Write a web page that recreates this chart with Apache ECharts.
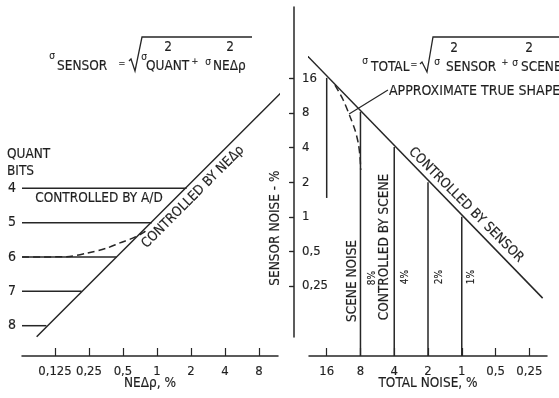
<!DOCTYPE html>
<html>
<head>
<meta charset="utf-8">
<script src="https://cdn.jsdelivr.net/npm/echarts@6/dist/echarts.min.js"></script>
<style>
  html, body { margin: 0; padding: 0; background: #ffffff; }
  #chart { width: 559px; height: 398px; }
</style>
</head>
<body>
<div id="chart"></div>
<script>
// ---------- left panel: sensor noise vs. quantisation ----------
const neTicks = [0.125, 0.25, 0.5, 1, 2, 4, 8];
const neTickLabels = ['0,125', '0,25', '0,5', '1', '2', '4', '8'];
const quantBits = [4, 5, 6, 7, 8];
// NEΔρ (%) where each quantisation level meets the NEΔρ-limited line
const bitsBreakNE = [1.83, 0.90, 0.44, 0.215, 0.105];
// NEΔρ-limited line, [NEΔρ %, bits]
const neLimitLine = [[0.086, 8.32], [14.4, 1.02]];
// transition for 6 bits, [NEΔρ %, bits]
const sixBitCurve = [[0.064, 6.0], [0.159, 5.99], [0.24, 5.89], [0.36, 5.74], [0.47, 5.59],
                     [0.61, 5.45], [0.75, 5.30], [0.835, 5.18]];

// ---------- right panel: total noise vs. sensor noise ----------
const totalTicks = [16, 8, 4, 2, 1, 0.5, 0.25];
const totalTickLabels = ['16', '8', '4', '2', '1', '0,5', '0,25'];
const sensorTicks = [16, 8, 4, 2, 1, 0.5, 0.25];
const sensorTickLabels = ['16', '8', '4', '2', '1', '0,5', '0,25'];
// scene noise levels (%) and the sensor noise where each line leaves the diagonal
const sceneNoise = [16, 8, 4, 2, 1];
const sceneLineTop = [16.2, 8.2, 4.05, 2.0, 1.0];
// lower end of each scene line (null = runs down to the axis)
const sceneLineBottom = [1.46, null, null, null, null];
// sensor-limited line, [total %, sensor %]
const sensorLimitLine = [[28.4, 30.1], [0.19, 0.196]];
// approximate true shape for 8 % scene noise, [total %, sensor %]
const trueShape8 = [[13.5, 14.0], [11.4, 10.4], [9.9, 7.44], [8.95, 5.7], [8.37, 4.37],
                    [8.08, 3.34], [7.96, 2.56]];
// pointer from the note to the curve, [total %, sensor %]
const notePointer = [[4.55, 12.7], [10.1, 7.85]];

// ---------- drawing ----------
const L = Math.log2;
const INK = '#262626';
const TEXT = '#1f1f1f';
const FONT = "'DejaVu Sans Condensed', 'Liberation Sans Narrow', 'Noto Sans', sans-serif";
const LW = 1.5;
const FS = 13.5;
const TEXT_EDGE = 0.15;

// axis extents in log2 units
const NE_EXT = [-3.97, 3.56];
const BITS_EXT = [-0.317, 8.882];
const TOTAL_EXT = [-2.524, 4.524];
const SENSOR_EXT_DATA = [-4.025, 6.068];
const SENSOR_EXT_AXIS = [-3.475, 6.068];

function labelFor(values, labels) {
  return function (v) {
    let best = 0;
    for (let i = 1; i < values.length; i++) {
      if (Math.abs(L(values[i]) - v) < Math.abs(L(values[best]) - v)) best = i;
    }
    return labels[best];
  };
}

const axisText = { color: TEXT, fontFamily: FONT, fontSize: 13,
                   textBorderColor: TEXT, textBorderWidth: TEXT_EDGE };

function lineSeries(data, xi, yi, extra) {
  return Object.assign({
    type: 'line', xAxisIndex: xi, yAxisIndex: yi, data: data,
    symbol: 'none', clip: false, silent: true, animation: false,
    lineStyle: { color: INK, width: LW }
  }, extra || {});
}

const series = [];
// quantisation levels
quantBits.forEach(function (b, i) {
  series.push(lineSeries([[NE_EXT[0], b], [L(bitsBreakNE[i]), b]], 0, 0));
});
series.push(lineSeries(neLimitLine.map(p => [L(p[0]), p[1]]), 0, 0));
series.push(lineSeries(sixBitCurve.map(p => [L(p[0]), p[1]]), 0, 0,
  { smooth: 0.3, lineStyle: { color: INK, width: LW, type: [7, 4] } }));

// sensor-limited diagonal
series.push(lineSeries(sensorLimitLine.map(p => [L(p[0]), L(p[1])]), 1, 1));
// scene noise lines
sceneNoise.forEach(function (s, i) {
  const bottom = sceneLineBottom[i] === null ? SENSOR_EXT_DATA[0] : L(sceneLineBottom[i]);
  series.push(lineSeries([[L(s), L(sceneLineTop[i])], [L(s), bottom]], 1, 1));
});
series.push(lineSeries(trueShape8.map(p => [L(p[0]), L(p[1])]), 1, 1,
  { smooth: 0.3, lineStyle: { color: INK, width: LW, type: [7, 4] } }));
series.push(lineSeries(notePointer.map(p => [L(p[0]), L(p[1])]), 1, 1,
  { lineStyle: { color: INK, width: 1.2 } }));

function txt(text, x, y, opts) {
  opts = opts || {};
  return {
    type: 'text', x: x, y: y, rotation: opts.rot || 0, silent: true,
    style: {
      text: text, fill: TEXT, fontFamily: FONT, fontSize: opts.size || FS,
      stroke: TEXT, lineWidth: TEXT_EDGE,
      align: opts.align || 'center', verticalAlign: 'middle'
    }
  };
}
function poly(points) {
  return { type: 'polyline', silent: true, shape: { points: points },
           style: { stroke: INK, lineWidth: 1.3, fill: null } };
}
const R90 = Math.PI / 2, R45 = Math.PI / 4;

const graphics = [
  // σ_SENSOR = sqrt(σ²_QUANT + σ²_NEΔρ)
  txt('σ', 52, 56, { size: 10 }),
  txt('SENSOR', 57, 66, { align: 'left' }),
  txt('=', 122, 64, { size: 9 }),
  poly([[129, 61], [131, 59], [135, 71], [142, 37], [252, 37]]),
  txt('σ', 144, 57, { size: 10 }),
  txt('2', 168, 47),
  txt('QUANT', 146, 66, { align: 'left' }),
  txt('+', 195, 62, { size: 9 }),
  txt('σ', 208, 62, { size: 10 }),
  txt('2', 230, 47),
  txt('NEΔρ', 213, 66, { align: 'left' }),
  // σ_TOTAL = sqrt(σ²_SENSOR + σ²_SCENE)
  txt('σ', 365, 61, { size: 10 }),
  txt('TOTAL', 371, 67, { align: 'left' }),
  txt('=', 414, 65, { size: 9 }),
  poly([[420, 64], [422, 62], [427, 72], [433, 37], [560, 37]]),
  txt('σ', 437, 62, { size: 10 }),
  txt('2', 454, 48),
  txt('SENSOR', 446, 67, { align: 'left' }),
  txt('+', 505, 63, { size: 9 }),
  txt('σ', 515, 63, { size: 10 }),
  txt('2', 529, 48),
  txt('SCENE', 521, 67, { align: 'left' }),
  // notes
  txt('APPROXIMATE TRUE SHAPE', 389, 91, { align: 'left', size: 14 }),
  txt('QUANT', 7, 154, { align: 'left' }),
  txt('BITS', 7, 171, { align: 'left' }),
  txt('CONTROLLED BY A/D', 99, 198),
  txt('CONTROLLED BY NEΔρ', 193, 197, { rot: R45 }),
  txt('CONTROLLED BY SENSOR', 466, 205, { rot: -R45 }),
  txt('SENSOR NOISE - %', 275, 228, { rot: R90 }),
  txt('SCENE NOISE', 352, 281, { rot: R90 }),
  txt('CONTROLLED BY SCENE', 384, 247, { rot: R90 }),
  txt('8%', 372, 278, { rot: R90, size: 10 }),
  txt('4%', 405, 277, { rot: R90, size: 10 }),
  txt('2%', 439, 277, { rot: R90, size: 10 }),
  txt('1%', 471, 277, { rot: R90, size: 10 })
];

const axisLineStyle = { show: true, onZero: false, lineStyle: { color: INK, width: LW } };
const nameStyle = { color: TEXT, fontFamily: FONT, fontSize: FS,
                    textBorderColor: TEXT, textBorderWidth: TEXT_EDGE };

const option = {
  backgroundColor: '#ffffff',
  animation: false,
  grid: [
    { left: 22, top: 40, width: 256, height: 316, outerBoundsMode: 'none' },
    { left: 309, top: 7, width: 238, height: 349, outerBoundsMode: 'none' },
    { left: 294, top: 7, width: 20, height: 330, outerBoundsMode: 'none' }
  ],
  xAxis: [
    {
      gridIndex: 0, type: 'value', min: NE_EXT[0], max: NE_EXT[1],
      axisLine: axisLineStyle,
      axisTick: { show: true, inside: true, length: 8, customValues: neTicks.map(L),
                  lineStyle: { color: INK, width: 1.2 } },
      axisLabel: Object.assign({ customValues: neTicks.map(L), margin: 9,
                  formatter: labelFor(neTicks, neTickLabels) }, axisText),
      splitLine: { show: false },
      name: 'NEΔρ, %', nameLocation: 'middle', nameGap: 20, nameMoveOverlap: false,
      nameTextStyle: nameStyle
    },
    {
      gridIndex: 1, type: 'value', min: TOTAL_EXT[0], max: TOTAL_EXT[1], inverse: true,
      axisLine: axisLineStyle,
      axisTick: { show: true, inside: true, length: 8, customValues: totalTicks.map(L),
                  lineStyle: { color: INK, width: 1.2 } },
      axisLabel: Object.assign({ customValues: totalTicks.map(L), margin: 9,
                  formatter: labelFor(totalTicks, totalTickLabels) }, axisText),
      splitLine: { show: false },
      name: 'TOTAL NOISE, %', nameLocation: 'middle', nameGap: 20, nameMoveOverlap: false,
      nameTextStyle: nameStyle
    },
    { gridIndex: 2, type: 'value', show: false, min: 0, max: 1 }
  ],
  yAxis: [
    {
      gridIndex: 0, type: 'value', inverse: true, min: BITS_EXT[0], max: BITS_EXT[1],
      axisLine: { show: false }, axisTick: { show: false }, splitLine: { show: false },
      axisLabel: Object.assign({ customValues: quantBits, margin: 6 }, axisText, { fontSize: 14 })
    },
    {
      gridIndex: 1, type: 'value', show: false,
      min: SENSOR_EXT_DATA[0], max: SENSOR_EXT_DATA[1], splitLine: { show: false }
    },
    {
      gridIndex: 2, type: 'value', min: SENSOR_EXT_AXIS[0], max: SENSOR_EXT_AXIS[1],
      axisLine: axisLineStyle, splitLine: { show: false },
      axisTick: { show: true, inside: false, length: 5, customValues: sensorTicks.map(L),
                  lineStyle: { color: INK, width: 1.2 } },
      axisLabel: Object.assign({ inside: true, margin: 8, customValues: sensorTicks.map(L),
                  formatter: labelFor(sensorTicks, sensorTickLabels) }, axisText)
    },
    {
      gridIndex: 2, type: 'value', min: SENSOR_EXT_AXIS[0], max: SENSOR_EXT_AXIS[1],
      axisLine: { show: false }, splitLine: { show: false }, axisLabel: { show: false },
      axisTick: { show: true, inside: true, length: 4, customValues: sensorTicks.map(L),
                  lineStyle: { color: INK, width: 1.2 } }
    }
  ],
  series: series,
  graphic: graphics
};

const chart = echarts.init(document.getElementById('chart'), null, { renderer: 'canvas' });
chart.setOption(option);
</script>
</body>
</html>
